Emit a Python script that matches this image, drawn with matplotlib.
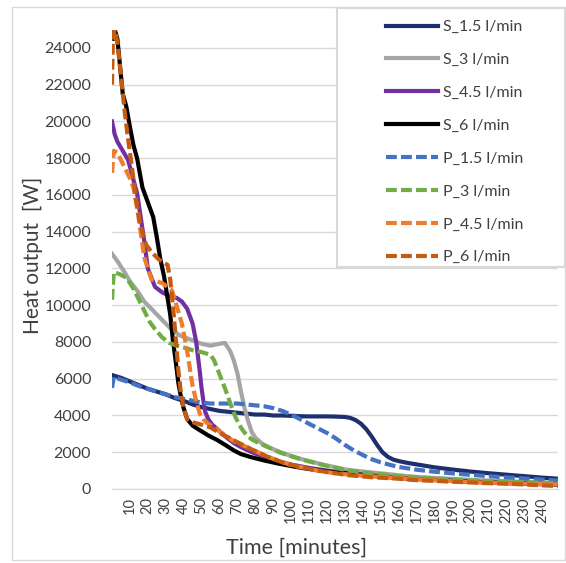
import matplotlib.pyplot as plt
from matplotlib.patches import Rectangle

plt.rcParams['font.family'] = ['Lato', 'DejaVu Sans']

# S series (solid)
t_s15 = [0, 5, 10, 15, 20, 25, 30, 35, 40, 45, 50, 55, 60, 65, 70, 75, 80, 85, 90, 95, 100, 105, 110, 115,
         120, 125, 130, 133, 136, 139, 142, 145, 148, 151, 154, 157, 160, 165, 170, 180, 190, 200, 210, 220,
         230, 240, 249]
w_s15 = [6200, 6050, 5850, 5650, 5450, 5300, 5150, 4950, 4800, 4600, 4450, 4350, 4250, 4200, 4150, 4100,
         4050, 4050, 4000, 4000, 3980, 3960, 3950, 3950, 3950, 3940, 3920, 3870, 3750, 3550, 3250, 2850,
         2400, 2000, 1750, 1600, 1520, 1420, 1340, 1180, 1060, 950, 860, 780, 700, 620, 560]

t_s3 = [0, 3, 7, 10, 14, 18, 22, 26, 30, 34, 38, 42, 46, 50, 55, 60, 63, 66, 68, 70, 72, 74, 76, 78, 80,
        84, 88, 94, 100, 106, 112, 118, 124, 131, 140, 150, 160, 170, 180, 190, 200, 210, 220, 230, 240, 249]
w_s3 = [12800, 12400, 11800, 11300, 10800, 10200, 9800, 9400, 9000, 8600, 8350, 8200, 8050, 7900, 7800,
        7900, 7950, 7500, 7000, 6300, 5300, 4400, 3700, 3100, 2800, 2450, 2250, 2000, 1800, 1620, 1470,
        1320, 1200, 1050, 950, 850, 750, 660, 600, 550, 500, 460, 420, 380, 350, 320]

t_s45 = [0, 1.5, 3, 6, 9, 12, 14, 16, 18, 20, 24, 28, 32, 36, 39, 42, 45, 47, 48, 49, 50, 51, 52, 54, 56,
         60, 64, 68, 72, 77, 82, 88, 94, 100, 110, 120, 130, 140, 150, 160, 170, 180, 190, 200, 210, 220,
         230, 240, 249]
w_s45 = [20000, 19300, 18900, 18400, 17900, 16800, 16100, 14800, 13500, 12000, 11000, 10700, 10500, 10400,
         10200, 9800, 9000, 8000, 7200, 6400, 5500, 4800, 4200, 3750, 3500, 3150, 2800, 2500, 2280, 2050,
         1850, 1650, 1480, 1330, 1150, 1000, 880, 780, 700, 620, 560, 500, 450, 400, 360, 320, 290, 260, 240]

t_s6 = [0.5, 1.5, 3, 4.5, 6, 8, 10, 12, 14, 17, 20, 23, 25, 27, 29, 31, 32.5, 34, 35.5, 37, 38.5, 40, 42,
        45, 49, 54, 59, 64, 68, 72, 77, 85, 92, 100, 107, 114, 125, 140, 150, 160, 170, 180, 190, 200, 210,
        220, 230, 240, 249]
w_s6 = [24500, 25000, 24500, 23000, 21500, 20800, 19700, 18700, 18000, 16400, 15600, 14800, 13700, 12500,
        11600, 10400, 9500, 8100, 7000, 5800, 5000, 4400, 3800, 3450, 3200, 2900, 2650, 2350, 2100, 1900,
        1750, 1550, 1400, 1250, 1130, 1030, 900, 760, 680, 600, 540, 490, 440, 400, 360, 330, 300, 270, 250]

# P series (dashed)
t_p15 = [0, 1, 5, 10, 15, 20, 25, 30, 35, 40, 45, 50, 55, 60, 65, 70, 75, 80, 85, 90, 95, 100, 105, 110,
         115, 120, 125, 130, 135, 140, 145, 150, 155, 160, 170, 180, 190, 200, 210, 220, 230, 240, 249]
w_p15 = [5500, 6100, 5950, 5800, 5600, 5450, 5300, 5150, 5000, 4900, 4800, 4700, 4650, 4650, 4650, 4650,
         4600, 4550, 4500, 4400, 4250, 4050, 3800, 3550, 3300, 3050, 2750, 2400, 2100, 1850, 1620, 1450,
         1320, 1200, 1050, 940, 850, 770, 700, 630, 570, 510, 460]

t_p3 = [0, 1, 4, 8, 12, 15, 18, 21, 24, 28, 32, 36, 40, 45, 50, 55, 57, 59, 61, 63, 65, 67, 69, 71, 73,
        75, 78, 82, 87, 94, 100, 106, 112, 118, 124, 131, 140, 150, 160, 170, 180, 190, 200, 210, 220, 230,
        240, 249]
w_p3 = [10300, 11800, 11700, 11500, 10900, 10300, 9700, 9100, 8700, 8250, 7950, 7800, 7700, 7550, 7450,
        7300, 7000, 6500, 6000, 5500, 4950, 4400, 3900, 3500, 3200, 2950, 2700, 2500, 2280, 1980, 1780,
        1600, 1450, 1300, 1170, 1020, 900, 800, 700, 630, 570, 520, 470, 430, 400, 370, 340, 320]

t_p45 = [0, 1, 3, 5, 7, 10, 12, 14, 15.6, 18, 20, 22, 25, 28, 31, 33.5, 36, 39, 41, 42.5, 44, 45, 47, 49,
         51, 53, 57, 62, 68, 77, 87, 100, 115, 125, 140, 160, 180, 200, 220, 240, 249]
w_p45 = [17200, 18400, 18300, 17900, 17500, 16900, 16400, 15300, 14250, 12600, 12000, 11400, 11300, 11200,
         11000, 10800, 10000, 9000, 8000, 7200, 6200, 5600, 4800, 4100, 3800, 3600, 3350, 3000, 2600, 2200,
         1750, 1300, 1000, 850, 720, 600, 480, 380, 320, 270, 250]

t_p6 = [0, 0.5, 1.5, 3, 5, 7, 8.5, 11, 13.5, 16, 19, 22, 26, 29, 31, 32.5, 34, 35.5, 37, 38.5, 40, 42, 46,
        50, 55, 60, 68, 77, 87, 95, 105, 115, 124, 131, 145, 160, 168, 185, 206, 225, 240, 249]
w_p6 = [22000, 24500, 25000, 24300, 22500, 20600, 19400, 17600, 15700, 14300, 13300, 12900, 12500, 12300,
        12200, 11400, 10000, 8300, 6500, 5200, 4400, 3800, 3600, 3500, 3350, 3050, 2650, 2200, 1750, 1450,
        1200, 1000, 870, 760, 640, 560, 490, 420, 330, 270, 200, 160]

x_ticks = list(range(10, 250, 10))
y_ticks = list(range(0, 24001, 2000))

fig = plt.figure(figsize=(5.66, 5.63), dpi=100)
ax = fig.add_axes([112 / 566, 1 - 489 / 563, 446 / 566, 459.5 / 563])

lw = 3
dash = (0, (2.6, 1.0))
lines = []
lines += ax.plot(t_s15, w_s15, color='#1F2F6E', lw=lw, label='S_1.5 l/min')
lines += ax.plot(t_s3, w_s3, color='#A5A5A5', lw=lw, label='S_3 l/min')
lines += ax.plot(t_s45, w_s45, color='#7030A0', lw=lw, label='S_4.5 l/min')
lines += ax.plot(t_s6, w_s6, color='black', lw=lw, label='S_6 l/min')
lines += ax.plot(t_p15, w_p15, color='#4472C4', lw=lw, ls=dash, label='P_1.5 l/min')
lines += ax.plot(t_p3, w_p3, color='#70AD47', lw=lw, ls=dash, label='P_3 l/min')
lines += ax.plot(t_p45, w_p45, color='#ED7D31', lw=lw, ls=dash, label='P_4.5 l/min')
lines += ax.plot(t_p6, w_p6, color='#C55A11', lw=lw, ls=dash, label='P_6 l/min')

ax.set_xlim(0, 249)
ax.set_ylim(0, 25000)
ax.set_xticks(x_ticks)
ax.set_xticklabels([str(v) for v in x_ticks], rotation=90)
ax.set_yticks(y_ticks)
ax.tick_params(length=0, colors='#404040')
ax.tick_params(axis='x', pad=6, labelsize=10.5)
ax.tick_params(axis='y', pad=15, labelsize=11.5)
ax.grid(axis='y', color='#D9D9D9', lw=1)
ax.set_axisbelow(True)
for s in ['top', 'right', 'left']:
    ax.spines[s].set_visible(False)
ax.spines['bottom'].set_color('#D9D9D9')

ax.set_ylabel('Heat output  [W]', fontsize=15, color='#404040')
ax.yaxis.set_label_coords(-79 / 446, (489 - 255) / 459.5)
ax.set_xlabel('Time [minutes]', fontsize=15.5, color='#404040')
ax.xaxis.set_label_coords((297 - 112) / 446, -(548 - 489) / 459.5)
ax.xaxis.label.set_verticalalignment('center')
ax.yaxis.label.set_verticalalignment('center')

# outer chart border and legend box
fig.patches.append(Rectangle((12 / 566, 3 / 563), 553 / 566, 553 / 563, transform=fig.transFigure,
                             fill=False, edgecolor='#D9D9D9', lw=1, zorder=0))
fig.patches.append(Rectangle((337 / 566, 1 - 267 / 563), 228 / 566, 259 / 563, transform=fig.transFigure,
                             facecolor='white', edgecolor='#D9D9D9', lw=1.5, zorder=2))

leg = fig.legend(handles=lines, loc='upper left', bbox_to_anchor=(386 / 566, 1 - 20 / 563),
                 frameon=False, fontsize=11.5, handlelength=3.26, handletextpad=0.3,
                 labelspacing=1.17, borderpad=0, borderaxespad=0)
leg.set_zorder(3)
for t in leg.get_texts():
    t.set_color('#404040')
for h in leg.get_lines():
    h.set_linewidth(3)

fig.savefig('out.png', dpi=100)
